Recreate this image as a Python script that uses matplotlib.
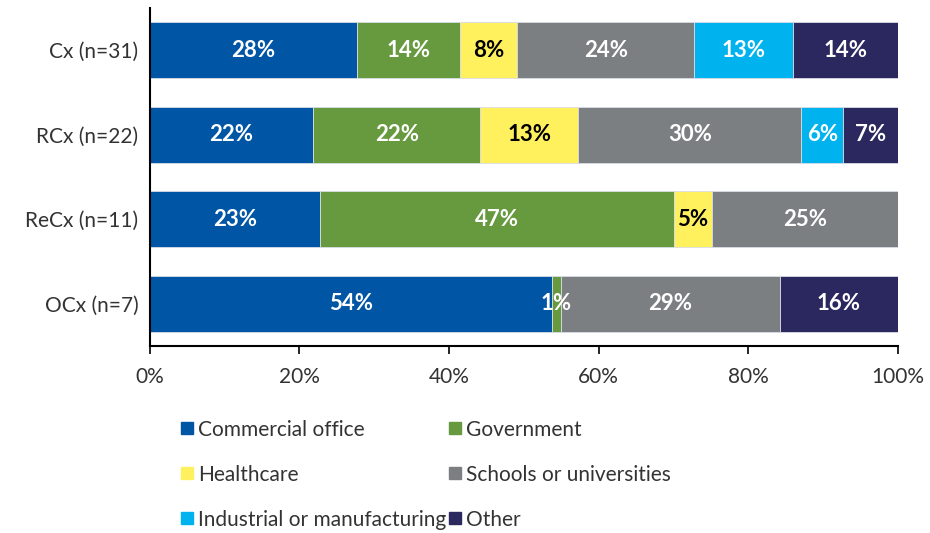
import matplotlib.pyplot as plt
from matplotlib.lines import Line2D
import numpy as np

plt.rcParams['font.family'] = ['Lato', 'DejaVu Sans']

groups = ['Cx (n=31)', 'RCx (n=22)', 'ReCx (n=11)', 'OCx (n=7)']
sectors = ['Commercial office', 'Government', 'Healthcare',
           'Schools or universities', 'Industrial or manufacturing', 'Other']

# share (%) of each sector per group
commercial = [27.7, 21.8, 22.7, 53.7]
government = [13.8, 22.4, 47.3, 1.2]
healthcare = [7.6, 13.1, 5.2, 0.0]
schools = [23.7, 29.8, 24.8, 29.3]
industrial = [13.2, 5.6, 0.0, 0.0]
other = [14.0, 7.3, 0.0, 15.8]

colors = ['#0155A5', '#679A3F', '#FFF15E', '#7C7F82', '#00B3EE', '#2A285E']
text_colors = ['white', 'white', 'black', 'white', 'white', 'white']

series = [commercial, government, healthcare, schools, industrial, other]

fig = plt.figure(figsize=(9.3, 5.33), dpi=100)
ax = fig.add_axes([0.161, 0.351, 0.8046, 0.634])

y = np.arange(len(groups))
left = np.zeros(len(groups))
for vals, c, tc, name in zip(series, colors, text_colors, sectors):
    vals = np.array(vals)
    bars = ax.barh(y, vals, left=left, height=0.66, color=c,
                   edgecolor='#d8dce6', linewidth=0.6, label=name)
    for b, v, l in zip(bars, vals, left):
        if v > 0:
            ax.text(l + v / 2, b.get_y() + b.get_height() / 2, f'{v:.0f}%',
                    ha='center', va='center', color=tc,
                    fontsize=16, fontweight='bold')
    left += vals

ax.set_xlim(0, 100)
ax.set_ylim(3.5, -0.5)
ax.set_yticks(y)
ax.set_yticklabels(groups, fontsize=15, color='#333333')
ax.tick_params(axis='y', length=0, pad=8)
ax.set_xticks([0, 20, 40, 60, 80, 100])
ax.set_xticklabels(['0%', '20%', '40%', '60%', '80%', '100%'],
                   fontsize=15, color='#333333')
ax.tick_params(axis='x', length=6, width=1.2, pad=9)
ax.spines['top'].set_visible(False)
ax.spines['right'].set_visible(False)
ax.spines['left'].set_linewidth(1.5)
ax.spines['bottom'].set_linewidth(1.5)

# legend filled row by row like the original: reorder for column-wise fill
order = [0, 2, 4, 1, 3, 5]
handles = [Line2D([], [], marker='s', linestyle='none', markersize=9,
                  markerfacecolor=colors[i], markeredgecolor=colors[i])
           for i in order]
fig.legend(handles, [sectors[i] for i in order], loc='upper left',
           bbox_to_anchor=(0.174, 0.248), ncol=2, frameon=False,
           fontsize=15, handlelength=0.6, handletextpad=0.25,
           columnspacing=0.1, labelspacing=1.2, labelcolor='#333333')

fig.savefig('out.png', dpi=100)
